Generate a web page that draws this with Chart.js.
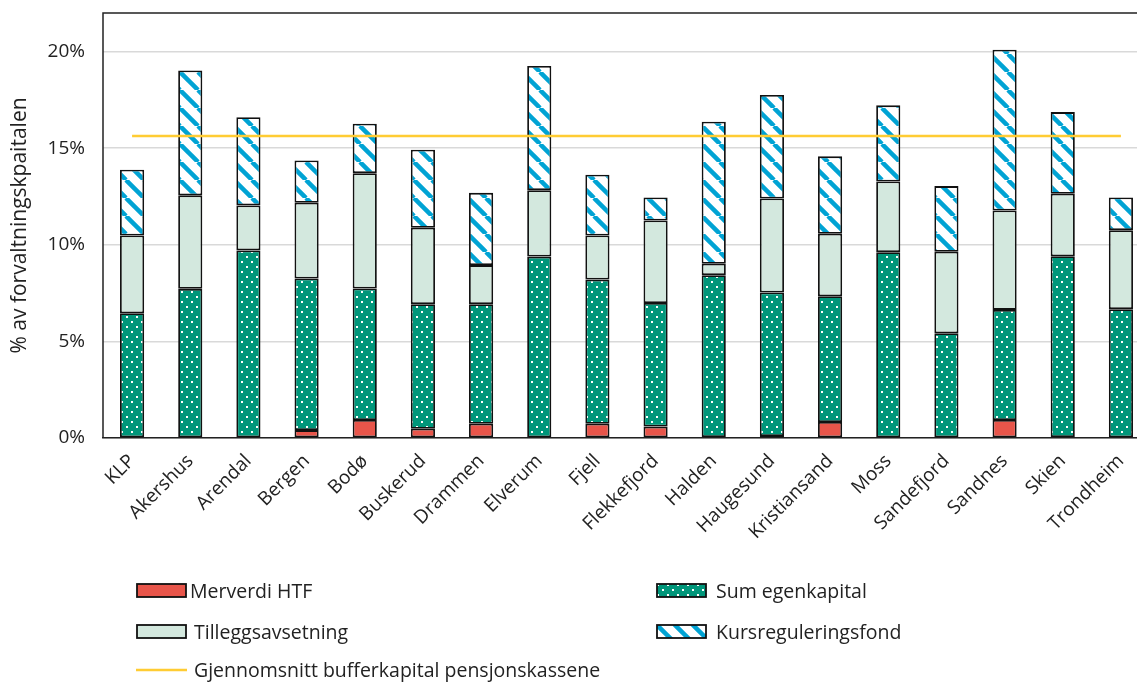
<!DOCTYPE html>
<html>
<head>
<meta charset="utf-8">
<script src="https://cdn.jsdelivr.net/npm/chart.js@4/dist/chart.umd.min.js"></script>
<style>
  html, body { margin: 0; padding: 0; background: #fff; overflow: hidden; }
  #wrap { position: relative; width: 1150px; height: 682px; }
  .leg { position: absolute; display: flex; align-items: center; font-family: "Open Sans", sans-serif; font-size: 19.5px; color: #222; }
  .leg canvas { margin-right: 3px; }
</style>
</head>
<body>
<div id="wrap">
  <canvas id="myChart"></canvas>
  <div class="leg" style="left:136px; top:577px;"><canvas id="sw0" width="51" height="15"></canvas>Merverdi HTF</div>
  <div class="leg" style="left:656px; top:577px;"><canvas id="sw1" width="51" height="15"></canvas><span style="margin-left:6px">Sum egenkapital</span></div>
  <div class="leg" style="left:136px; top:618px;"><canvas id="sw2" width="51" height="15"></canvas><span style="margin-left:4px">Tilleggsavsetning</span></div>
  <div class="leg" style="left:656px; top:618px;"><canvas id="sw3" width="51" height="15"></canvas><span style="margin-left:6px">Kursreguleringsfond</span></div>
  <div class="leg" style="left:136px; top:656px;"><canvas id="sw4" width="51" height="15"></canvas><span style="margin-left:4px">Gjennomsnitt bufferkapital pensjonskassene</span></div>
</div>
<script>
const labels = ['KLP', 'Akershus', 'Arendal', 'Bergen', 'Bodø', 'Buskerud', 'Drammen', 'Elverum', 'Fjell',
    'Flekkefjord', 'Halden', 'Haugesund', 'Kristiansand', 'Moss', 'Sandefjord', 'Sandnes', 'Skien', 'Trondheim'];

const merverdi = [0, 0, -0.05, 0.41, 0.93, 0.48, 0.74, -0.05, 0.74, 0.59, 0.05, 0.1, 0.83, -0.05, 0, 0.93, 0.05, 0];
const egenkapital = [6.46, 7.72, 9.71, 7.85, 6.81, 6.45, 6.19, 9.39, 7.46, 6.40, 8.38, 7.43, 6.51, 9.62, 5.42, 5.70, 9.36, 6.67];
const tillegg = [4.02, 4.84, 2.33, 3.92, 5.97, 3.95, 2.02, 3.44, 2.28, 4.27, 0.59, 4.87, 3.23, 3.66, 4.22, 5.15, 3.23, 4.09];
const kursreg = [3.41, 6.46, 4.56, 2.19, 2.56, 4.04, 3.74, 6.43, 3.15, 1.19, 7.35, 5.36, 4.01, 3.94, 3.40, 8.32, 4.23, 1.69];
const snitt = labels.map(() => 15.63);

const yTicks = [0, 5, 10, 15, 20];

// fill patterns
function dotPattern() {
    const c = document.createElement('canvas');
    c.width = 10; c.height = 10;
    const g = c.getContext('2d');
    g.fillStyle = '#00967a';
    g.fillRect(0, 0, 10, 10);
    g.fillStyle = '#ffffff';
    g.fillRect(1, 1, 2, 2);
    g.fillRect(6, 6, 2, 2);
    return g.createPattern(c, 'repeat');
}

function stripePattern() {
    const n = 18;
    const c = document.createElement('canvas');
    c.width = n; c.height = n;
    const g = c.getContext('2d');
    g.fillStyle = '#ffffff';
    g.fillRect(0, 0, n, n);
    g.strokeStyle = '#00a3d4';
    g.lineWidth = 4.5;
    [-n, 0, n].forEach(o => {
        g.beginPath();
        g.moveTo(o, 0);
        g.lineTo(o + n, n);
        g.stroke();
    });
    return g.createPattern(c, 'repeat');
}

const ctx = document.getElementById('myChart').getContext('2d');
const dots = dotPattern();
const stripes = stripePattern();

const red = '#e8554a';
const pale = '#d3e8de';
const yellow = '#ffcc33';

// frame around plot area (left + top line)
const framePlugin = {
    id: 'frame',
    afterDraw(chart) {
        const a = chart.chartArea;
        const c = chart.ctx;
        c.save();
        c.strokeStyle = '#222';
        c.lineWidth = 1.5;
        c.beginPath();
        c.moveTo(a.left, a.bottom);
        c.lineTo(a.left, a.top);
        c.lineTo(a.right, a.top);
        c.stroke();
        c.restore();
    }
};

new Chart(ctx, {
    type: 'bar',
    data: {
        labels: labels,
        datasets: [
            { label: 'Merverdi HTF', data: merverdi, backgroundColor: red, stack: 'a', order: 1 },
            { label: 'Sum egenkapital', data: egenkapital, backgroundColor: dots, stack: 'a', order: 1 },
            { label: 'Tilleggsavsetning', data: tillegg, backgroundColor: pale, stack: 'a', order: 1 },
            { label: 'Kursreguleringsfond', data: kursreg, backgroundColor: stripes, stack: 'a', order: 1 },
            {
                type: 'line', label: 'Gjennomsnitt bufferkapital pensjonskassene', data: snitt,
                borderColor: yellow, borderWidth: 2.5, pointRadius: 0, stack: 'line', order: 0
            }
        ].map(d => d.type ? d : Object.assign(d, { borderColor: '#111', borderWidth: 1.8, borderSkipped: false }))
    },
    options: {
        responsive: true,
        maintainAspectRatio: false,
        animation: false,
        layout: { padding: { top: 13, right: 0, bottom: 0, left: 0 } },
        datasets: { bar: { barPercentage: 0.415, categoryPercentage: 1 } },
        scales: {
            x: {
                stacked: true,
                grid: { display: false },
                border: { display: true, color: '#222', width: 1.5 },
                ticks: {
                    minRotation: 45, maxRotation: 45, padding: 4,
                    color: '#222', font: { family: 'Open Sans', size: 19 }
                },
                afterFit: s => { s.height = 244; }
            },
            y: {
                stacked: true,
                min: 0, max: 22,
                afterBuildTicks: axis => { axis.ticks = yTicks.map(v => ({ value: v })); },
                grid: { color: '#d9d9d9', lineWidth: 1.5, drawTicks: false },
                border: { display: false },
                ticks: {
                    padding: 18, color: '#222', font: { family: 'Open Sans', size: 19 },
                    callback: v => v + '%'
                },
                title: {
                    display: true, text: '% av forvaltningskpaitalen', color: '#222',
                    font: { family: 'Open Sans', size: 21 }, padding: { top: 7, bottom: 0 }
                },
                afterFit: s => { s.width = 103; s.paddingTop = 0; s.paddingBottom = 0; }
            }
        },
        plugins: {
            legend: { display: false },
            tooltip: { enabled: false }
        }
    },
    plugins: [framePlugin]
});

// legend swatches
const fills = [red, dots, pale, stripes];
fills.forEach((f, i) => {
    const g = document.getElementById('sw' + i).getContext('2d');
    g.fillStyle = f;
    g.fillRect(1, 1, 49, 13);
    g.strokeStyle = '#111';
    g.lineWidth = 1.8;
    g.strokeRect(1, 1, 49, 13);
});
const lg = document.getElementById('sw4').getContext('2d');
lg.strokeStyle = yellow;
lg.lineWidth = 2.5;
lg.beginPath();
lg.moveTo(0, 8);
lg.lineTo(51, 8);
lg.stroke();
</script>
</body>
</html>
